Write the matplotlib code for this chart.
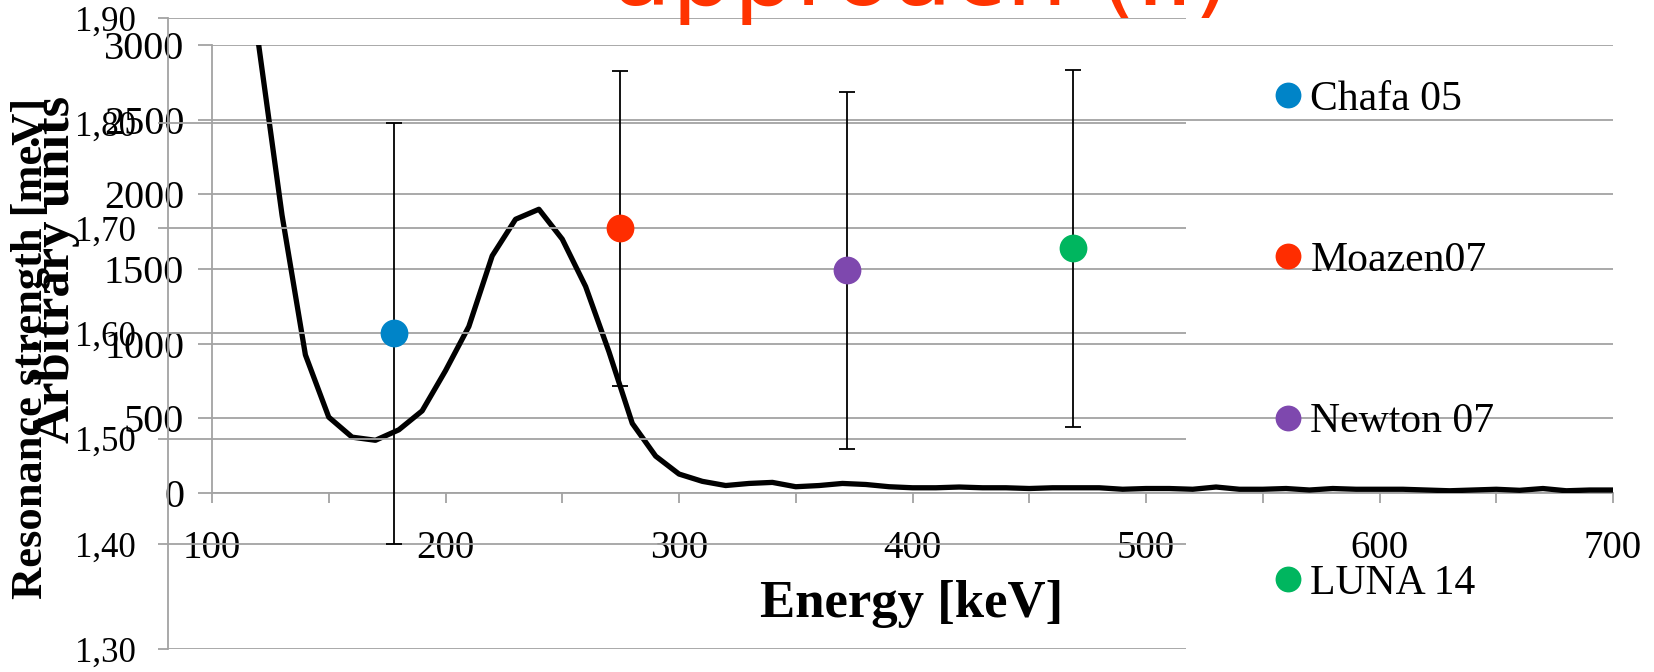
import numpy as np
import matplotlib
matplotlib.use("Agg")
import matplotlib.pyplot as plt
from matplotlib.ticker import MultipleLocator, FuncFormatter

plt.rcParams['font.family'] = ['Liberation Serif', 'DejaVu Serif']

# resonance strength measurements (back chart)
labels = ["Chafa 05", "Moazen07", "Newton 07", "LUNA 14"]
strength = [1.60, 1.70, 1.66, 1.681]
strength_err = [0.20, 0.15, 0.17, 0.17]
colors = ["#0084C8", "#FF2D00", "#7E48AE", "#00B65F"]
positions = [1, 2, 3, 4]

# yield curve vs energy (front chart)
energy = [120, 130, 140, 150, 160, 170, 180, 190, 200, 210,
          220, 230, 240, 250, 260, 270, 280, 290, 300, 310,
          320, 330, 340, 350, 360, 370, 380, 390, 400, 410,
          420, 430, 440, 450, 460, 470, 480, 490, 500, 510,
          520, 530, 540, 550, 560, 570, 580, 590, 600, 610,
          620, 630, 640, 650, 660, 670, 680, 690, 700]
arb = [3000, 1860, 925, 508, 374, 353, 423, 550, 819, 1115,
       1588, 1833, 1900, 1700, 1383, 946, 466, 247, 127, 78,
       50, 64, 71, 42, 50, 64, 57, 42, 35, 35,
       40, 35, 35, 30, 35, 35, 35, 25, 30, 30,
       25, 40, 25, 25, 30, 20, 30, 25, 25, 25,
       20, 15, 20, 25, 18, 30, 15, 20, 20]

W, H = 1654, 672
GRID = '#A3A3A3'


def rect(l, t, r, b):
    return [l / W, 1 - b / H, (r - l) / W, (b - t) / H]


fig = plt.figure(figsize=(W / 100, H / 100), dpi=100)

# ---- back chart: resonance strength
axA = fig.add_axes(rect(168, 18, 1186, 649))
axA.set_zorder(2)
axA.patch.set_alpha(0)
axA.set_xlim(0, 4.5)
axA.set_ylim(1.30, 1.90)
axA.set_yticks([1.3, 1.4, 1.5, 1.6, 1.7, 1.8, 1.9])
axA.yaxis.set_major_formatter(FuncFormatter(lambda v, p: ("%.2f" % v).replace('.', ',')))
axA.set_xticks([])
axA.grid(axis='y', color=GRID, lw=1.3)
for s in ['top', 'right', 'bottom']:
    axA.spines[s].set_visible(False)
axA.spines['left'].set_color(GRID)
axA.spines['left'].set_linewidth(1.3)
axA.tick_params(axis='y', direction='out', length=7, width=1.3, color=GRID,
                labelsize=25, pad=16)

axA.errorbar(positions, strength, yerr=strength_err, fmt='none', ecolor='black',
             elinewidth=1.3, capsize=6, capthick=1.3, zorder=3)
for x, y, c, lab in zip(positions, strength, colors, labels):
    axA.plot([x], [y], 'o', color=c, markersize=20, markeredgewidth=0,
             label=lab, zorder=4)

axA.legend(loc='upper left', bbox_to_anchor=(1278 / W, 1 - 80 / H),
           bbox_transform=fig.transFigure, frameon=False, fontsize=30,
           labelspacing=2.95, handlelength=0.5, handletextpad=0.28,
           markerscale=0.93, borderpad=0, borderaxespad=0)

# ---- front chart: arbitrary units
axB = fig.add_axes(rect(212, 45, 1613, 493))
axB.set_zorder(1)
axB.patch.set_alpha(0)
axB.plot(energy, arb, color='black', lw=3.8, zorder=3)
axB.set_xlim(100, 700)
axB.set_ylim(0, 3000)
axB.set_xticks([100, 200, 300, 400, 500, 600, 700])
axB.xaxis.set_minor_locator(MultipleLocator(50))
axB.set_yticks([0, 500, 1000, 1500, 2000, 2500, 3000])
axB.grid(axis='y', color=GRID, lw=1.3)
for s in ['top', 'right']:
    axB.spines[s].set_visible(False)
for s in ['left', 'bottom']:
    axB.spines[s].set_color(GRID)
    axB.spines[s].set_linewidth(1.3)
axB.tick_params(axis='x', which='both', direction='out', length=7, width=1.3,
                color=GRID, labelsize=28, pad=20)
axB.tick_params(axis='y', direction='out', length=10, width=1.3, color=GRID,
                labelsize=29, pad=10)

fig.text(31 / W, 1 - 348 / H, "Resonance strength [meV]", rotation=90,
         fontsize=32, fontweight='bold', ha='center', va='center')
fig.text(56 / W, 1 - 269 / H, "Arbitrary units", rotation=90,
         fontsize=38, fontweight='bold', ha='center', va='center')
fig.text(912 / W, 1 - 617 / H, "Energy [keV]", fontsize=38, fontweight='bold',
         ha='center', va='baseline')
fig.text(612 / W, 1 - 5 / H, "approach (II)", color='#FF3300', fontsize=70,
         family='DejaVu Sans', ha='left', va='baseline')

fig.savefig('out.png', dpi=100)
